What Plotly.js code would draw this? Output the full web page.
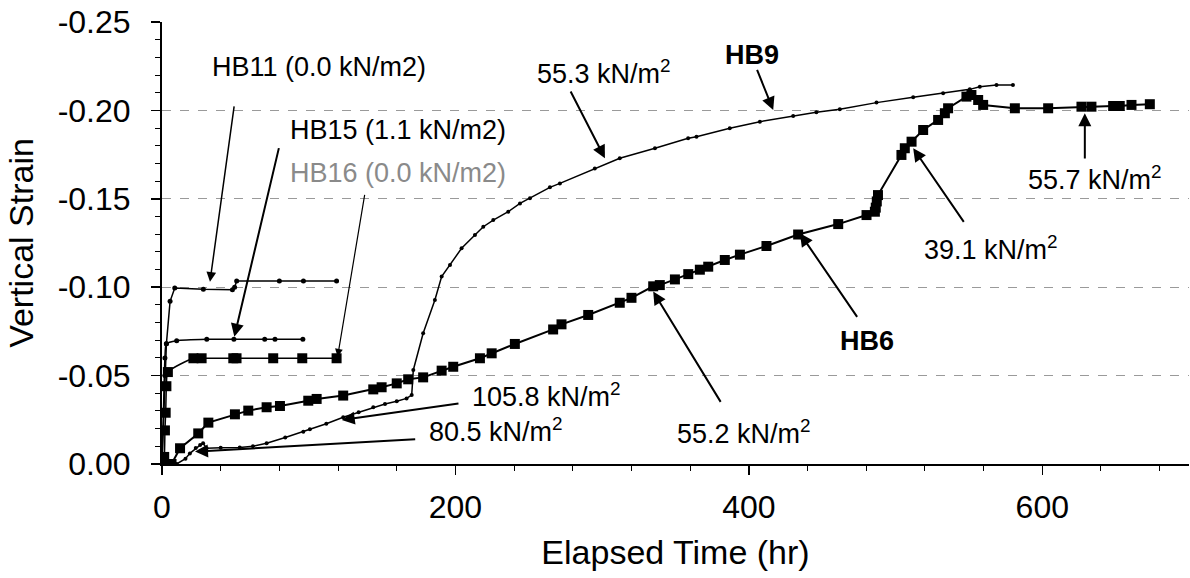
<!DOCTYPE html>
<html>
<head>
<meta charset="utf-8">
<script src="https://cdn.plot.ly/plotly-3.0.1.min.js"></script>
<style>html,body{margin:0;padding:0;background:#fff;}#chart{width:1190px;height:578px;}</style>
</head>
<body>
<div id="chart"></div>
<script>
// ---- data (elapsed time in hr, vertical strain) ----
var HB6_t = [1, 6.5, 12.3, 24.7, 31.6, 49.7, 58.8, 71.3, 80.4, 99.7, 105.4, 123.5, 144, 149.7, 160, 167.8, 178, 190.6, 198.5, 216.7, 224.7, 240.5, 266.6, 272.3, 290.5, 312, 320, 334.8, 339.3, 349.6, 358.7, 366.6, 372.3, 383.6, 393.9, 412, 433.6, 460.9, 480.2, 485.9, 486.5, 487.2, 488, 504, 506.3, 510.9, 518.8, 529, 533.6, 535.8, 548.3, 551.7, 556.3, 559.7, 581.3, 604, 626.7, 633.5, 648.3, 652.8, 660.8, 673.3];
var HB6_v = [0, 0, -0.0089, -0.0173, -0.0234, -0.0281, -0.0302, -0.0321, -0.0328, -0.0358, -0.0368, -0.0387, -0.0422, -0.0434, -0.0456, -0.0479, -0.049, -0.0528, -0.055, -0.0598, -0.0626, -0.0679, -0.0761, -0.079, -0.0843, -0.0912, -0.094, -0.1005, -0.1012, -0.1044, -0.1074, -0.1099, -0.1116, -0.1154, -0.1184, -0.1233, -0.1298, -0.1357, -0.1408, -0.1427, -0.145, -0.1485, -0.1521, -0.1748, -0.1786, -0.1823, -0.1889, -0.1946, -0.1984, -0.2012, -0.2078, -0.2087, -0.2059, -0.2031, -0.2012, -0.2012, -0.2021, -0.2021, -0.2025, -0.2025, -0.2031, -0.2035];

var HB9_t = [10, 16, 19, 23, 26, 28, 30.4, 40, 53, 62, 71.3, 84, 96.3, 100.8, 112, 123.5, 134, 144, 152, 160, 166.7, 170.2, 171.3, 178, 186, 190.6, 196.3, 204.2, 213.3, 219, 225.8, 236, 244, 250.8, 264.4, 271.2, 295, 312, 336, 358.6, 364.3, 387, 407.5, 430.2, 446, 462, 487, 512, 532.4, 550.6, 557.4, 568.8, 580];
var HB9_v = [0, -0.003, -0.006, -0.009, -0.0107, -0.0117, -0.0089, -0.0092, -0.0094, -0.01, -0.0117, -0.015, -0.0183, -0.0196, -0.0228, -0.0264, -0.0293, -0.0321, -0.0339, -0.0355, -0.0371, -0.039, -0.0532, -0.0739, -0.0928, -0.106, -0.1126, -0.122, -0.1295, -0.1342, -0.138, -0.1427, -0.1474, -0.1503, -0.1565, -0.1587, -0.1672, -0.1729, -0.1786, -0.1842, -0.1851, -0.1899, -0.1936, -0.1968, -0.199, -0.2006, -0.2044, -0.2074, -0.2097, -0.2119, -0.2134, -0.2144, -0.2144];

var HB11_t = [0, 1, 2, 3, 5.5, 8.7, 28.2, 48, 49.5, 50.9, 80, 96.4, 119];
var HB11_v = [0, -0.02, -0.05, -0.068, -0.092, -0.0995, -0.0988, -0.0985, -0.1, -0.1035, -0.1035, -0.1035, -0.1035];

var HB15_t = [0, 1, 2, 3, 10, 30.5, 49, 70, 77, 96];
var HB15_v = [0, -0.03, -0.06, -0.068, -0.0697, -0.0705, -0.0705, -0.0705, -0.0705, -0.0705];

var HB16_t = [0, 1.5, 2, 2.5, 3, 4, 21.4, 27, 48.6, 50.8, 75.8, 95.6, 119];
var HB16_v = [0, -0.004, -0.019, -0.029, -0.044, -0.052, -0.0598, -0.0598, -0.0598, -0.0598, -0.0598, -0.0598, -0.0598];

// tick labels
var yTickVals = [0, -0.05, -0.10, -0.15, -0.20, -0.25];
var yTickText = ['0.00', '-0.05', '-0.10', '-0.15', '-0.20', '-0.25'];
var xTickVals = [0, 200, 400, 600];
var xTickText = ['0', '200', '400', '600'];

// label texts and their anchor points [t, strain]
var labelText = ['HB11 (0.0 kN/m2)', 'HB15 (1.1 kN/m2)', 'HB16 (0.0 kN/m2)', '55.3 kN/m<sup>2</sup>', '<b>HB9</b>',
                 '55.7 kN/m<sup>2</sup>', '39.1 kN/m<sup>2</sup>', '<b>HB6</b>', '55.2 kN/m<sup>2</sup>',
                 '105.8 kN/m<sup>2</sup>', '80.5 kN/m<sup>2</sup>'];
var labelT = [32.7, 86.1, 86.1, 254.2, 382.5, 589.2, 517.7, 460.9, 349.6, 209.9, 180.4];
var labelV = [-0.2247, -0.1889, -0.1644, -0.2219, -0.2313, -0.1616, -0.122, -0.0697, -0.0183, -0.039, -0.0192];

// leader arrows: tail [t, strain] -> tip [t, strain]
var arrowTailT = [49.3, 79.9, 138.3, 278, 405.2, 629, 547.2, 474.5, 381.4, 203.1, 173.6];
var arrowTailV = [-0.2031, -0.1795, -0.1531, -0.2115, -0.2238, -0.1719, -0.1361, -0.0824, -0.0343, -0.0343, -0.014];
var arrowTipT = [32.7, 49.3, 119.7, 301.9, 416.6, 629, 512, 434.8, 334.8, 122.5, 22.5];
var arrowTipV = [-0.1031, -0.072, -0.0607, -0.1729, -0.2002, -0.1984, -0.1786, -0.1305, -0.0975, -0.0249, -0.007];

var FONT = 'Liberation Sans, Arial, Helvetica, sans-serif';

var traces = [
  {x: HB16_t, y: HB16_v, mode: 'lines+markers', line: {color: '#000', width: 1.5, shape: 'spline', smoothing: 0.6},
   marker: {symbol: 'square', size: 10, color: '#000'}, name: 'HB16'},
  {x: HB15_t, y: HB15_v, mode: 'lines+markers', line: {color: '#000', width: 1.5, shape: 'spline', smoothing: 0.6},
   marker: {symbol: 'circle', size: 5, color: '#000'}, name: 'HB15'},
  {x: HB11_t, y: HB11_v, mode: 'lines+markers', line: {color: '#000', width: 1.5},
   marker: {symbol: 'circle', size: 5, color: '#000'}, name: 'HB11'},
  {x: HB9_t, y: HB9_v, mode: 'lines+markers', line: {color: '#000', width: 1.5},
   marker: {symbol: 'circle', size: 4, color: '#000'}, name: 'HB9'},
  {x: HB6_t, y: HB6_v, mode: 'lines+markers', line: {color: '#000', width: 2},
   marker: {symbol: 'square', size: 10, color: '#000'}, name: 'HB6'}
];

var annotations = [];
for (var i = 0; i < labelText.length; i++) {
  annotations.push({
    x: labelT[i], y: labelV[i], xref: 'x', yref: 'y', text: labelText[i], showarrow: false,
    xanchor: 'left', yanchor: 'middle',
    font: {family: FONT, size: 27, color: (i === 2 ? '#8a8a8a' : '#000')}
  });
}
var arrowWidths = [1.5, 2, 1.2, 2, 2, 2, 2, 2, 2, 2, 2];
for (var j = 0; j < arrowTipT.length; j++) {
  annotations.push({
    x: arrowTipT[j], y: arrowTipV[j], xref: 'x', yref: 'y',
    ax: arrowTailT[j], ay: arrowTailV[j], axref: 'x', ayref: 'y',
    text: '', showarrow: true, arrowhead: 2, arrowsize: 1.3, arrowwidth: arrowWidths[j], arrowcolor: '#000'
  });
}

var layout = {
  width: 1190, height: 578,
  margin: {l: 162, r: 1, t: 22, b: 114, pad: 0},
  paper_bgcolor: '#fff', plot_bgcolor: '#fff',
  showlegend: false,
  font: {family: FONT, color: '#000'},
  xaxis: {
    range: [0, 700], tickvals: xTickVals, ticktext: xTickText,
    showline: true, linecolor: '#000', linewidth: 2, mirror: false,
    ticks: 'outside', ticklen: 9, tickwidth: 1.5, tickcolor: '#000',
    minor: {dtick: 40, tick0: 0, ticks: 'outside', ticklen: 5, tickwidth: 1, tickcolor: '#000', showgrid: false},
    showgrid: false, zeroline: false,
    tickfont: {family: FONT, size: 32, color: '#000'},
    ticklabelstandoff: 5,
    title: {text: 'Elapsed Time (hr)', font: {family: FONT, size: 34, color: '#000'}, standoff: 16}
  },
  yaxis: {
    range: [0, -0.25], tickvals: yTickVals, ticktext: yTickText,
    showline: true, linecolor: '#000', linewidth: 2,
    ticks: 'outside', ticklen: 9, tickwidth: 1.5, tickcolor: '#000',
    minor: {dtick: 0.01, tick0: 0, ticks: 'outside', ticklen: 5, tickwidth: 1, tickcolor: '#000', showgrid: false},
    showgrid: true, gridcolor: '#9a9a9a', gridwidth: 1.2, griddash: 'dash',
    zeroline: false,
    tickfont: {family: FONT, size: 32, color: '#000'},
    ticklabelstandoff: 14,
    title: {text: 'Vertical Strain', font: {family: FONT, size: 34, color: '#000'}, standoff: 14}
  },
  annotations: annotations
};

Plotly.newPlot('chart', traces, layout, {displayModeBar: false, staticPlot: true});
</script>
</body>
</html>
